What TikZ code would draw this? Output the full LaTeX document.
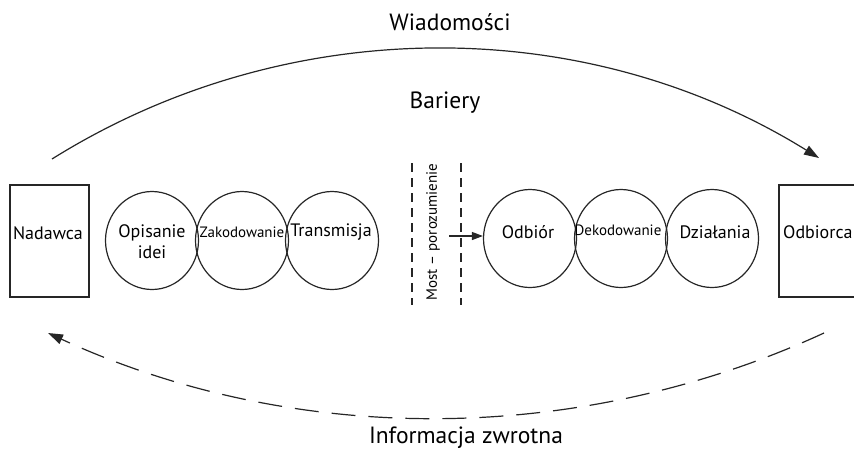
\documentclass[tikz,border=0pt]{standalone}
\usepackage{fontspec}
\setmainfont{PT Sans}
\usetikzlibrary{shapes.geometric,arrows.meta}
\begin{document}
\begin{tikzpicture}[x=1pt,y=-1pt,
  lbl/.style={font=\fontsize{18}{21}\selectfont, inner sep=0pt},
  smalllbl/.style={font=\fontsize{15}{18}\selectfont, inner sep=0pt},
  biglbl/.style={font=\fontsize{23.5}{27}\selectfont, inner sep=0pt},
  stage/.style={draw=black!85, ellipse, minimum width=93pt, minimum height=98pt, inner sep=0pt, line width=1.2pt},
  party/.style={draw=black!85, line width=1.4pt, inner sep=0pt},
  bridge/.style={draw=black!85, line width=1.3pt, dash pattern=on 9pt off 6pt},
  flow/.style={draw=black!85, line width=1.2pt, -{Triangle[length=15pt,width=10pt]}},
]
\clip (0,0) rectangle (854,451);
% parties
\node[party, minimum width=79pt, minimum height=112pt] (nad) at (49.5,241) {};
\node[lbl] (nadt) at (48,233) {Nadawca};
\node[party, minimum width=91pt, minimum height=112pt] (odbc) at (824.5,241) {};
\node[lbl, anchor=west] (odbct) at (783,232) {Odbiorca};
% sender stages
\node[stage] (opi) at (152,240.5) {};
\node[stage] (zak) at (242,240.5) {};
\node[stage] (tra) at (332,240.5) {};
\node[lbl, align=center] (opit) at (152,242) {Opisanie\\idei};
\node[smalllbl] (zakt) at (242,232) {Zakodowanie};
\node[lbl] (trat) at (331,232) {Transmisja};
% receiver stages
\node[stage] (odb) at (530,238.5) {};
\node[stage] (dek) at (621,238.5) {};
\node[stage] (dzi) at (712,238.5) {};
\node[lbl] (odbt) at (528,232) {Odbiór};
\node[smalllbl] (dekt) at (618,230) {Dekodowanie};
\node[lbl] (dzit) at (715,232) {Działania};
% bridge
\coordinate (b1t) at (412,163);
\coordinate (b1b) at (412,305);
\coordinate (b2t) at (461,163);
\coordinate (b2b) at (461,305);
\draw[bridge] (b1t) -- (b1b);
\draw[bridge] (b2t) -- (b2b);
\node[smalllbl, rotate=90] (most) at (433,232) {Most – porozumienie};
\coordinate (ab) at (449,236);
\draw[draw=black!85, line width=1.2pt, -{Triangle[length=11pt,width=8pt]}] (ab) -- (ab -| odb.west);
% labels
\node[biglbl] (wia) at (450,22) {Wiadomości};
\node[biglbl] (bar) at (445,103) {Bariery};
\node[biglbl] (inf) at (466,438) {Informacja zwrotna};
% message arc
\coordinate (ms) at (52,159);
\coordinate (me) at (819,158);
\draw[flow] (ms) .. controls (286.6,12.4) and (584.4,12.4) .. (me);
% feedback arc
\coordinate (fs) at (824,333);
\coordinate (fe) at (48,333);
\draw[flow, dash pattern=on 24pt off 13pt] (fs) .. controls (577.8,446.2) and (294.2,446.2) .. (fe);
\end{tikzpicture}
\end{document}
